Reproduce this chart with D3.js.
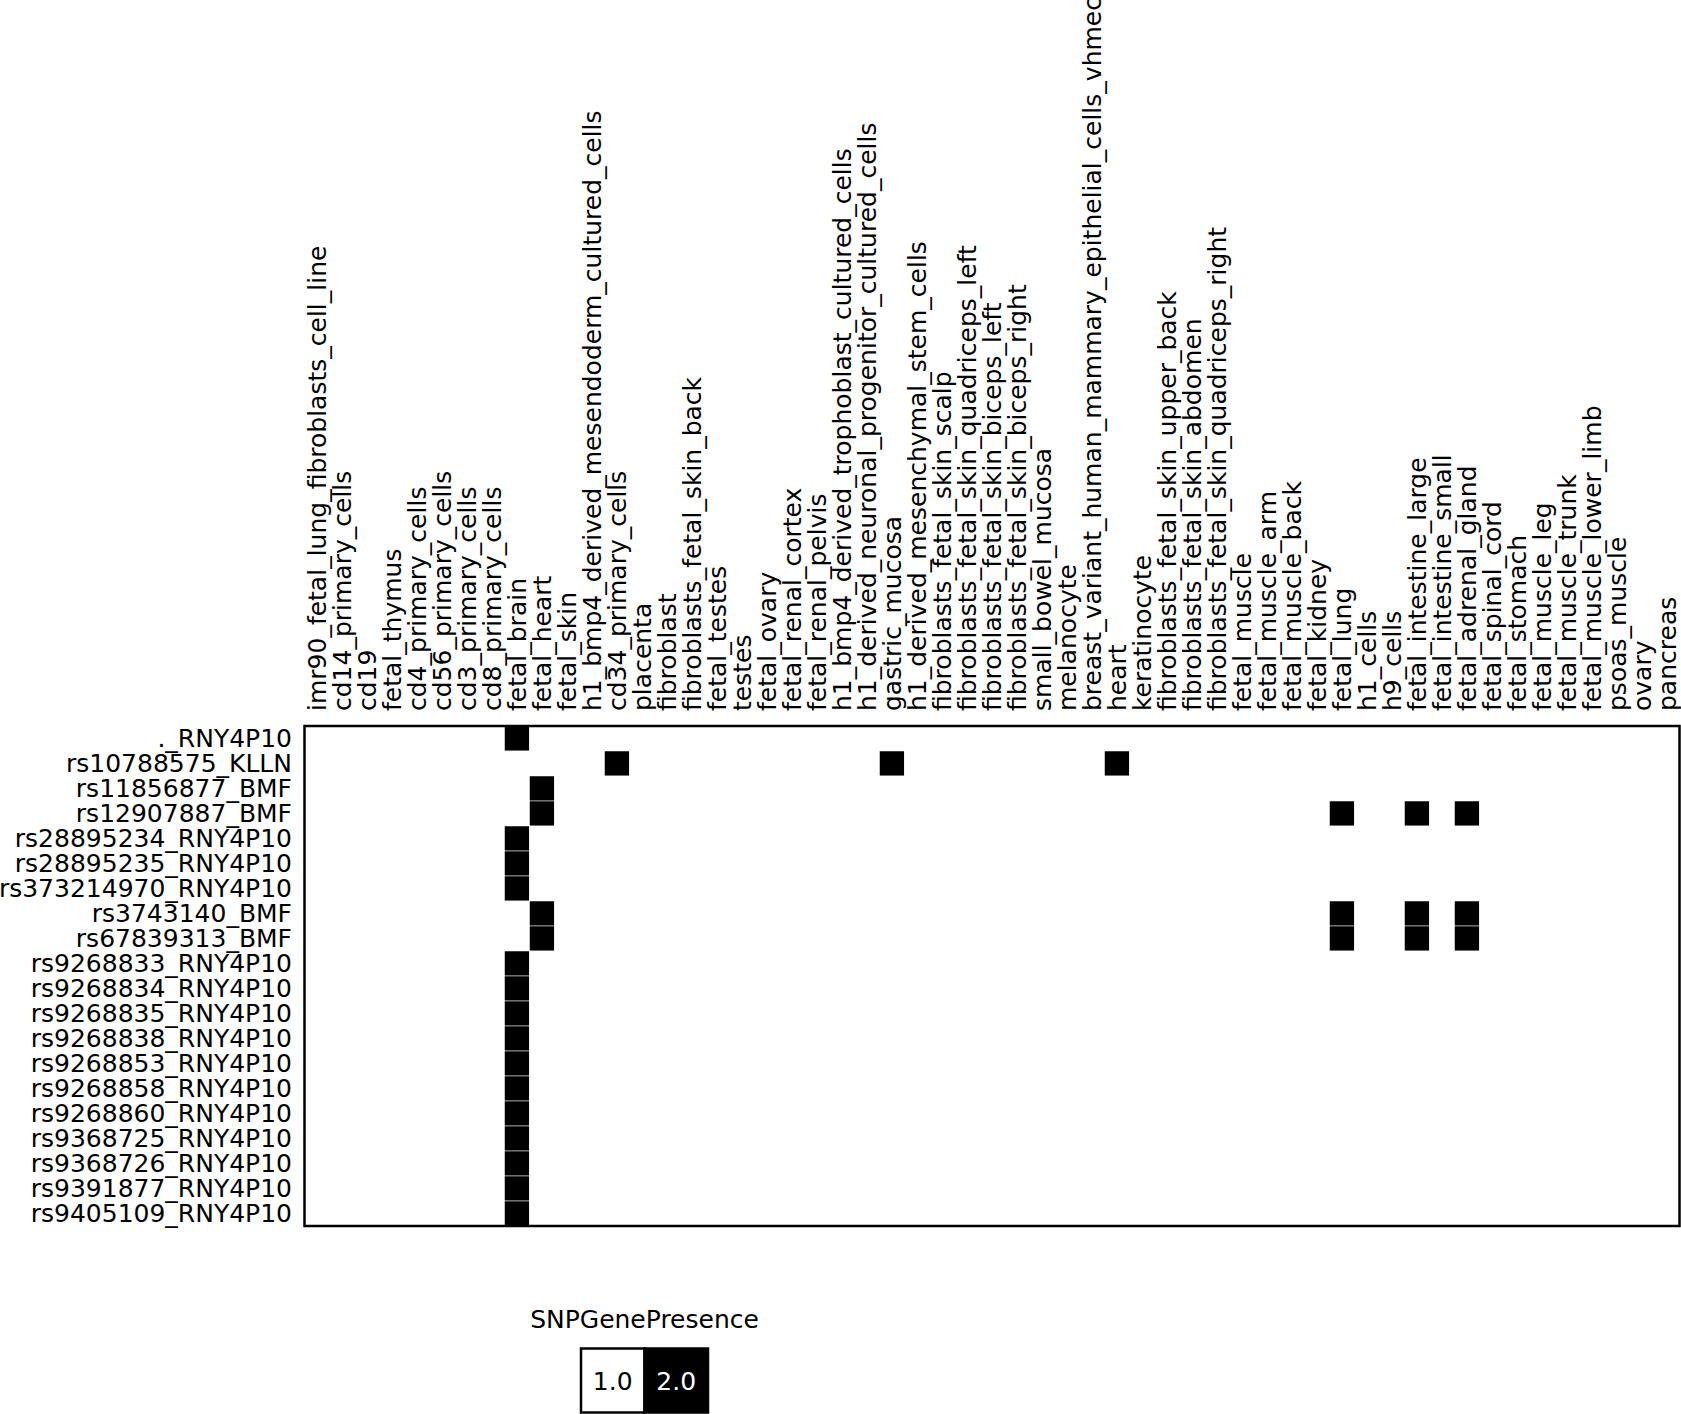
<!DOCTYPE html>
<html>
<head>
<meta charset="utf-8">
<script src="https://cdn.jsdelivr.net/npm/d3@7"></script>
<style>
  body { margin: 0; background: #fff; }
  text { font-family: "DejaVu Sans", sans-serif; }
</style>
</head>
<body>
<div id="chart"></div>
<script>
// row labels (SNP_gene)
var snps = [
  "._RNY4P10", "rs10788575_KLLN", "rs11856877_BMF", "rs12907887_BMF",
  "rs28895234_RNY4P10", "rs28895235_RNY4P10", "rs373214970_RNY4P10",
  "rs3743140_BMF", "rs67839313_BMF", "rs9268833_RNY4P10", "rs9268834_RNY4P10",
  "rs9268835_RNY4P10", "rs9268838_RNY4P10", "rs9268853_RNY4P10",
  "rs9268858_RNY4P10", "rs9268860_RNY4P10", "rs9368725_RNY4P10",
  "rs9368726_RNY4P10", "rs9391877_RNY4P10", "rs9405109_RNY4P10"
];

// column labels (tissues / cell types)
var tissues = [
  "imr90_fetal_lung_fibroblasts_cell_line", "cd14_primary_cells", "cd19",
  "fetal_thymus", "cd4_primary_cells", "cd56_primary_cells", "cd3_primary_cells",
  "cd8_primary_cells", "fetal_brain", "fetal_heart", "fetal_skin",
  "h1_bmp4_derived_mesendoderm_cultured_cells", "cd34_primary_cells", "placenta",
  "fibroblast", "fibroblasts_fetal_skin_back", "fetal_testes", "testes",
  "fetal_ovary", "fetal_renal_cortex", "fetal_renal_pelvis",
  "h1_bmp4_derived_trophoblast_cultured_cells",
  "h1_derived_neuronal_progenitor_cultured_cells", "gastric_mucosa",
  "h1_derived_mesenchymal_stem_cells", "fibroblasts_fetal_skin_scalp",
  "fibroblasts_fetal_skin_quadriceps_left", "fibroblasts_fetal_skin_biceps_left",
  "fibroblasts_fetal_skin_biceps_right", "small_bowel_mucosa", "melanocyte",
  "breast_variant_human_mammary_epithelial_cells_vhmec", "heart", "keratinocyte",
  "fibroblasts_fetal_skin_upper_back", "fibroblasts_fetal_skin_abdomen",
  "fibroblasts_fetal_skin_quadriceps_right", "fetal_muscle", "fetal_muscle_arm",
  "fetal_muscle_back", "fetal_kidney", "fetal_lung", "h1_cells", "h9_cells",
  "fetal_intestine_large", "fetal_intestine_small", "fetal_adrenal_gland",
  "fetal_spinal_cord", "fetal_stomach", "fetal_muscle_leg", "fetal_muscle_trunk",
  "fetal_muscle_lower_limb", "psoas_muscle", "ovary", "pancreas"
];

// tissues where SNPGenePresence = 2.0 for each row, every other cell is 1.0
var presentIn = [
  ["fetal_brain"],
  ["cd34_primary_cells", "gastric_mucosa", "heart"],
  ["fetal_heart"],
  ["fetal_heart", "fetal_lung", "fetal_intestine_large", "fetal_adrenal_gland"],
  ["fetal_brain"],
  ["fetal_brain"],
  ["fetal_brain"],
  ["fetal_heart", "fetal_lung", "fetal_intestine_large", "fetal_adrenal_gland"],
  ["fetal_heart", "fetal_lung", "fetal_intestine_large", "fetal_adrenal_gland"],
  ["fetal_brain"], ["fetal_brain"], ["fetal_brain"], ["fetal_brain"],
  ["fetal_brain"], ["fetal_brain"], ["fetal_brain"], ["fetal_brain"],
  ["fetal_brain"], ["fetal_brain"], ["fetal_brain"]
];

var legendValues = [1.0, 2.0];
var legendTitle = "SNPGenePresence";

var W = 1681, H = 1414;
var plotLeft = 304.5, plotTop = 726, cell = 25;
var width = tissues.length * cell,
    height = snps.length * cell;

// build the cells
var cells = [];
snps.forEach(function(s, i) {
  tissues.forEach(function(t) {
    cells.push({snp: s, tissue: t, value: presentIn[i].indexOf(t) >= 0 ? 2.0 : 1.0});
  });
});

var x = d3.scaleBand().domain(tissues).range([0, width]).padding(0);
var y = d3.scaleBand().domain(snps).range([0, height]).padding(0);
var color = d3.scaleOrdinal().domain(legendValues).range(["#ffffff", "#000000"]);

var svg = d3.select("#chart").append("svg")
    .attr("width", W)
    .attr("height", H);

var g = svg.append("g")
    .attr("transform", "translate(" + plotLeft + "," + plotTop + ")");

// heatmap cells
g.selectAll(".cell")
    .data(cells)
  .enter().append("rect")
    .attr("class", "cell")
    .attr("x", function(d) { return x(d.tissue); })
    .attr("y", function(d) { return y(d.snp); })
    .attr("width", x.bandwidth())
    .attr("height", y.bandwidth())
    .attr("fill", function(d) { return color(d.value); })
    .attr("stroke", "#ffffff")
    .attr("stroke-width", 0.5);

// row labels
var yAxis = g.append("g")
    .call(d3.axisLeft(y).tickSize(0).tickPadding(12.5));
yAxis.select(".domain").remove();
yAxis.selectAll("text")
    .style("font-size", "25px")
    .attr("fill", "#000");

// column labels, rotated
var xAxis = g.append("g")
    .call(d3.axisTop(x).tickSize(0));
xAxis.select(".domain").remove();
xAxis.selectAll("text")
    .style("font-size", "25px")
    .attr("fill", "#000")
    .style("text-anchor", "start")
    .attr("x", 15)
    .attr("y", 0)
    .attr("dy", "0.35em")
    .attr("transform", "rotate(-90)");

// frame
g.append("rect")
    .attr("width", width)
    .attr("height", height)
    .attr("fill", "none")
    .attr("stroke", "#000")
    .attr("stroke-width", 2.5);

// legend
var lx = d3.scaleBand().domain(legendValues).range([581, 708]);
var legend = svg.append("g");

legend.append("text")
    .attr("x", 644.5)
    .attr("y", 1328)
    .attr("text-anchor", "middle")
    .style("font-size", "25px")
    .text(legendTitle);

legend.selectAll(".swatch")
    .data(legendValues)
  .enter().append("rect")
    .attr("class", "swatch")
    .attr("x", function(d) { return lx(d); })
    .attr("y", 1348.5)
    .attr("width", lx.bandwidth())
    .attr("height", 64)
    .attr("fill", function(d) { return color(d); })
    .attr("stroke", "#000")
    .attr("stroke-width", 2.5);

legend.selectAll(".swlabel")
    .data(legendValues)
  .enter().append("text")
    .attr("class", "swlabel")
    .attr("x", function(d) { return lx(d) + lx.bandwidth() / 2; })
    .attr("y", 1381)
    .attr("dy", "0.35em")
    .attr("text-anchor", "middle")
    .style("font-size", "25px")
    .attr("fill", function(d) { return d === 2.0 ? "#fff" : "#000"; })
    .text(function(d) { return d3.format(".1f")(d); });
</script>
</body>
</html>
